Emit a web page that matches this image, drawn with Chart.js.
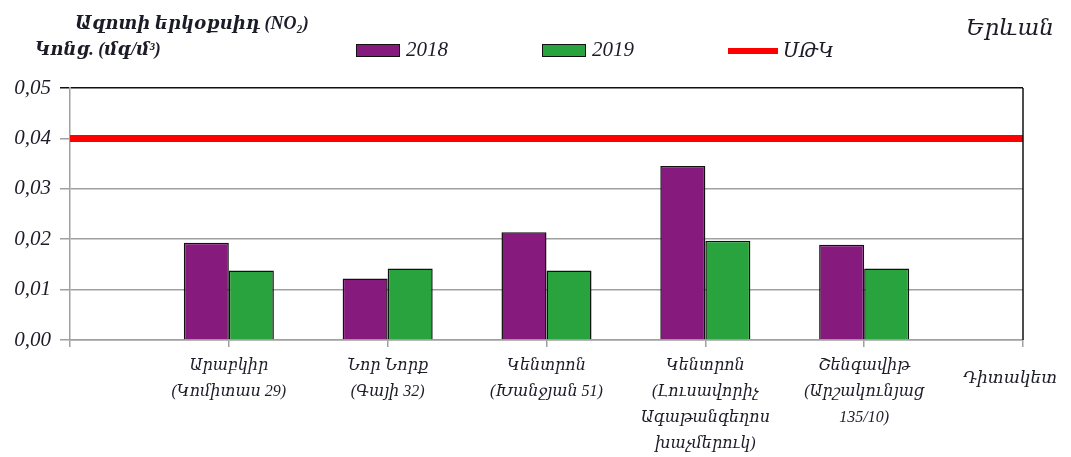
<!DOCTYPE html>
<html>
<head>
<meta charset="utf-8">
<script src="https://cdn.jsdelivr.net/npm/chart.js@4"></script>
<style>
  html,body{margin:0;padding:0;background:#fff;}
  #wrap{position:relative;width:1071px;height:457px;overflow:hidden;}
  #c{position:absolute;left:0;top:0;}
  .t{position:absolute;font-family:"Liberation Serif","DejaVu Serif",serif;font-style:italic;color:#1c1c28;white-space:nowrap;line-height:1;}
  .sw{position:absolute;box-sizing:border-box;}
</style>
</head>
<body>
<div id="wrap">
<canvas id="c" width="1071" height="457"></canvas>
<div id="overlay"></div>
</div>
<script>
const titleLines = ["Ազոտի երկօքսիդ  (NO₂)", "Կոնց. (մգ/մ³)"];
const cityLabel = "Երևան";
const xAxisTitle = "Դիտակետ";
const categories = [
  "",
  ["Արաբկիր", "(Կոմիտաս 29)"],
  ["Նոր Նորք", "(Գայի 32)"],
  ["Կենտրոն", "(Խանջյան 51)"],
  ["Կենտրոն", "(Լուսավորիչ", "Ագաթանգեղոս", "խաչմերուկ)"],
  ["Շենգավիթ", "(Արշակունյաց", "135/10)"],
  ""
];
const series2018 = [null, 0.0193, 0.0122, 0.0214, 0.0345, 0.0189, null];
const series2019 = [null, 0.0138, 0.0142, 0.0138, 0.0197, 0.0142, null];
const limitValue = 0.04;
const limitSeries = categories.map(() => limitValue);
const seriesNames = ["2018", "2019", "ՍԹԿ"];
const yTicks = [0, 0.01, 0.02, 0.03, 0.04, 0.05];

const PURPLE = "#861b7d", GREEN = "#29a33e", RED = "#ff0000";
const FONT = '"Liberation Serif","DejaVu Serif",serif';

// overlay texts
const ov = document.getElementById('overlay');
function addText(txt, x, y, size, bold, extra) {
  const d = document.createElement('div');
  d.className = 't';
  d.textContent = txt;
  d.style.left = x + 'px'; d.style.top = y + 'px';
  d.style.fontSize = size + 'px';
  if (bold) d.style.fontWeight = 'bold';
  if (extra) Object.assign(d.style, extra);
  ov.appendChild(d);
  return d;
}
function addSwatch(x, y, w, h, bg, border) {
  const d = document.createElement('div');
  d.className = 'sw';
  d.style.left = x + 'px'; d.style.top = y + 'px';
  d.style.width = w + 'px'; d.style.height = h + 'px';
  d.style.background = bg;
  if (border) d.style.border = border;
  ov.appendChild(d);
}
addText(titleLines[0], 75, 14, 18, true);
addText(titleLines[1], 35, 40, 18, true);
addText(cityLabel, 966, 16, 23, false);
addText(xAxisTitle, 963, 369, 17, false);
// legend
addSwatch(356, 44, 44, 13, PURPLE, "1.5px solid #111");
addText(seriesNames[0], 406, 39, 21, false);
addSwatch(542, 44, 44, 13, GREEN, "1.5px solid #111");
addText(seriesNames[1], 592, 39, 21, false);
addSwatch(728, 48, 50, 6, RED, null);
addText(seriesNames[2], 783, 40, 20, false);

const framePlugin = {
  id: 'frame',
  afterDatasetsDraw(chart) {
    const {ctx, chartArea} = chart;
    ctx.save();
    ctx.strokeStyle = '#111';
    ctx.lineWidth = 1.5;
    ctx.beginPath();
    ctx.moveTo(chartArea.right, chartArea.top);
    ctx.lineTo(chartArea.right, chartArea.bottom);
    ctx.stroke();
    ctx.restore();
  }
};

new Chart(document.getElementById('c'), {
  data: {
    labels: categories,
    datasets: [
      { type: 'line', label: seriesNames[2], data: limitSeries, borderColor: RED, borderWidth: 7,
        pointRadius: 0, fill: false, order: 0 },
      { type: 'bar', label: seriesNames[0], data: series2018, backgroundColor: PURPLE,
        borderColor: '#111', borderWidth: 1.5, order: 1 },
      { type: 'bar', label: seriesNames[1], data: series2019, backgroundColor: GREEN,
        borderColor: '#111', borderWidth: 1.5, order: 1 }
    ]
  },
  options: {
    responsive: false,
    animation: false,
    devicePixelRatio: 1,
    layout: { padding: { top: 88, right: 48, left: 0, bottom: 0 } },
    datasets: { bar: { categoryPercentage: 0.567, barPercentage: 1.0 } },
    plugins: { legend: { display: false }, tooltip: { enabled: false } },
    scales: {
      x: {
        offset: false,
        grid: { offset: false, drawOnChartArea: false, drawTicks: true, tickLength: 7, color: '#a0a0a0', lineWidth: 1.5 },
        border: { color: '#a0a0a0', width: 1.5 },
        ticks: { autoSkip: false, maxRotation: 0, minRotation: 0, padding: 6, color: '#1c1c28',
          font: { family: FONT, size: 16, style: 'italic', lineHeight: 1.63 } },
        afterFit(s) { s.height = 117; }
      },
      y: {
        min: 0, max: 0.05,
        afterBuildTicks(s) { s.ticks = yTicks.map(v => ({ value: v })); },
        grid: { color: ctx => (ctx.tick && ctx.tick.value === 0.05) ? '#111' : '#a0a0a0', lineWidth: 1.5, tickLength: 10 },
        border: { color: '#a0a0a0', width: 1.5 },
        ticks: { padding: 9, color: '#1c1c28', callback: v => v.toFixed(2).replace('.', ','),
          font: { family: FONT, size: 21, style: 'italic' } },
        afterFit(s) { s.width = 70; }
      }
    }
  },
  plugins: [framePlugin]
});
</script>
</body>
</html>
